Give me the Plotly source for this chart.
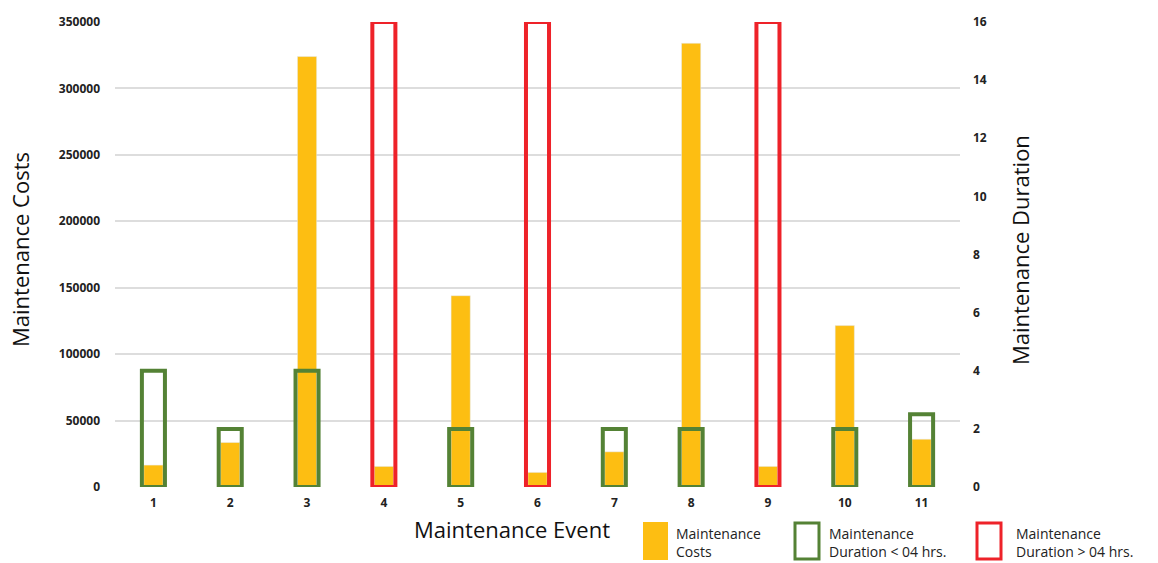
import plotly.graph_objects as go

events = [str(i) for i in range(1, 12)]
costs = [16500, 33500, 324000, 15500, 144000, 11000, 26500, 334000, 15500, 121500, 36000]
duration_short = [4, 2, 4, None, 2, None, 2, 2, None, 2, 2.5]
duration_long = [None, None, None, 16, None, 16, None, None, 16, None, None]
cost_ticks = [0, 50000, 100000, 150000, 200000, 250000, 300000, 350000]
dur_ticks = [0, 2, 4, 6, 8, 10, 12, 14, 16]

YELLOW = "#FDBE12"
GREEN = "#548235"
RED = "#EE2229"

fig = go.Figure()
fig.add_trace(go.Bar(x=events, y=costs, name="Maintenance Costs", marker_color=YELLOW,
                     width=0.25, yaxis="y", showlegend=False))
fig.add_trace(go.Bar(x=events, y=duration_short, name="Maintenance Duration < 04 hrs.",
                     marker=dict(color="rgba(0,0,0,0)", line=dict(color=GREEN, width=4)),
                     width=0.30, yaxis="y2", cliponaxis=False, showlegend=False))
fig.add_trace(go.Bar(x=events, y=duration_long, name="Maintenance Duration > 04 hrs.",
                     marker=dict(color="rgba(0,0,0,0)", line=dict(color=RED, width=4)),
                     width=0.30, yaxis="y2", cliponaxis=False, showlegend=False))

tickfont = dict(family="Open Sans", size=12, color="#222222", weight="bold")
fig.update_layout(
    width=1158, height=563,
    margin=dict(l=115, r=198, t=22, b=76),
    paper_bgcolor="white", plot_bgcolor="white",
    barmode="overlay",
    font=dict(family="Open Sans"),
    xaxis=dict(type="category", tickfont=tickfont, showgrid=False, showline=False,
               ticks="", ticklabelstandoff=7),
    yaxis=dict(range=[0, 350000], tickvals=cost_ticks, tickformat="d", tickfont=tickfont,
               showgrid=True, gridcolor="#DDDDDD", gridwidth=1.5, zeroline=False,
               ticklabelstandoff=14),
    yaxis2=dict(range=[0, 16], tickvals=dur_ticks, tickfont=tickfont, overlaying="y",
                side="right", showgrid=False, zeroline=False, ticklabelstandoff=12),
)

titlefont = dict(family="Open Sans", size=22, color="#111111")
ann = [
    dict(text="Maintenance Costs", x=20, y=250, textangle=-90),
    dict(text="Maintenance Duration", x=1020, y=250, textangle=-90),
    dict(text="Maintenance Event", x=512, y=529),
]
for a in ann:
    fig.add_annotation(text=a["text"], xref="paper", yref="paper",
                       x=(a["x"] - 115) / (1158 - 115 - 198), y=(563 - 76 - a["y"]) / (563 - 22 - 76),
                       showarrow=False, textangle=a.get("textangle", 0), font=titlefont,
                       xanchor="center", yanchor="middle", borderpad=0)

def px(xp):
    return (xp - 115) / (1158 - 115 - 198)

def py(yp):
    return (563 - 76 - yp) / (563 - 22 - 76)

fig.add_shape(type="rect", xref="paper", yref="paper", x0=px(643), x1=px(668), y0=py(560), y1=py(522),
              fillcolor=YELLOW, line=dict(width=0))
fig.add_shape(type="rect", xref="paper", yref="paper", x0=px(795), x1=px(819), y0=py(559), y1=py(523),
              fillcolor="rgba(0,0,0,0)", line=dict(color=GREEN, width=3))
fig.add_shape(type="rect", xref="paper", yref="paper", x0=px(977), x1=px(1001), y0=py(559), y1=py(523),
              fillcolor="rgba(0,0,0,0)", line=dict(color=RED, width=3))

legfont = dict(family="Open Sans", size=14, color="#222222")
for xp, txt in [(674, "Maintenance<br>Costs"), (827, "Maintenance<br>Duration < 04 hrs."),
                (1014, "Maintenance<br>Duration > 04 hrs.")]:
    fig.add_annotation(text=txt, xref="paper", yref="paper", x=px(xp), y=py(542),
                       showarrow=False, xanchor="left", yanchor="middle", align="left",
                       font=legfont)

fig.write_html("out.html")
